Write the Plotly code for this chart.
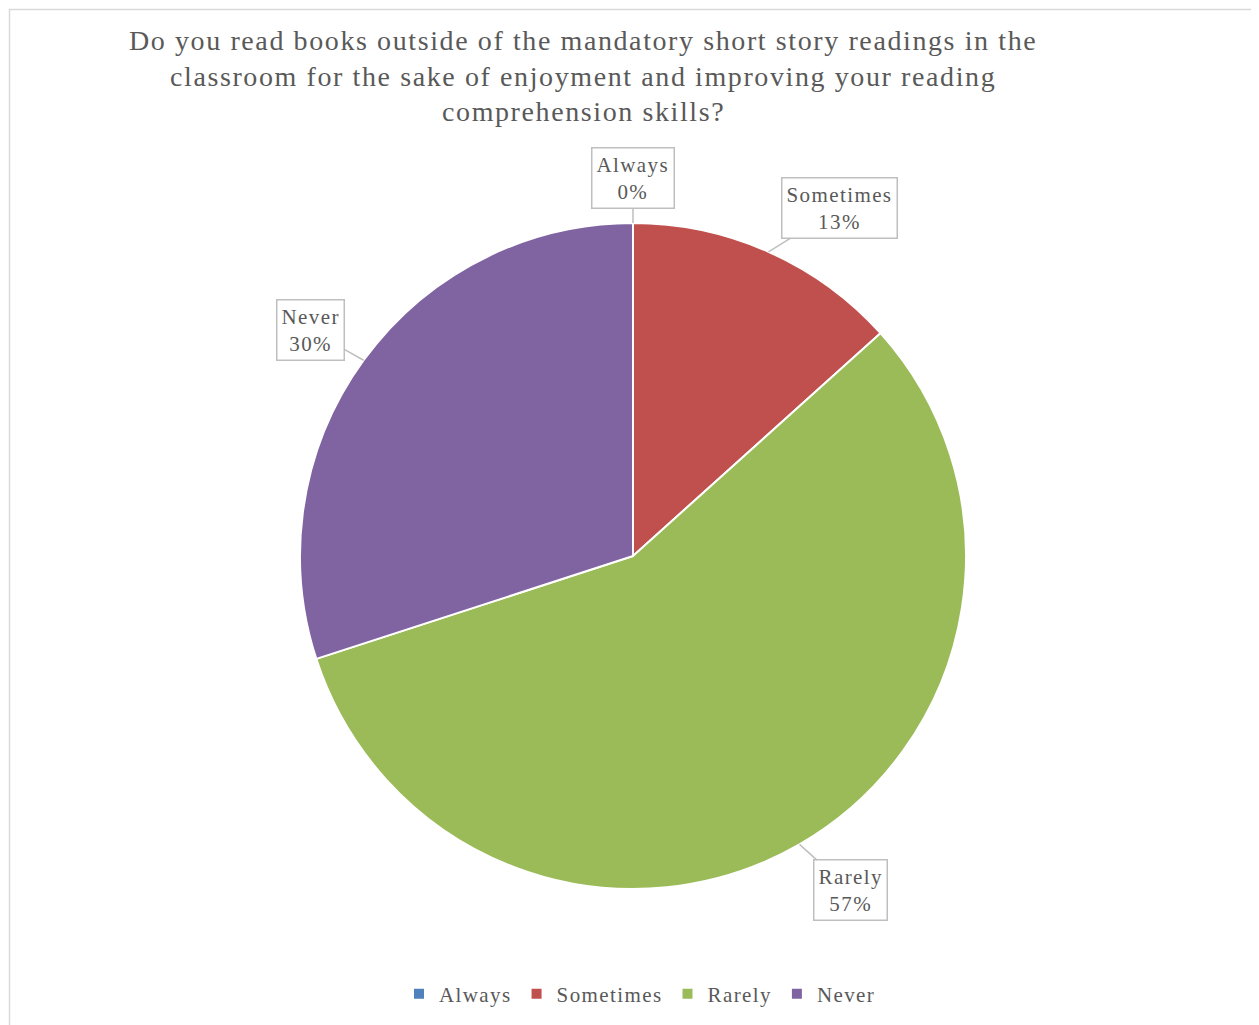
import math
import plotly.graph_objects as go

categories = ["Always", "Sometimes", "Rarely", "Never"]
counts = [0, 4, 17, 9]
colors = ["#4F81BD", "#C0504D", "#9BBB59", "#8064A2"]
title_lines = [
    "Do you read books outside of the mandatory short story readings in the",
    "classroom for the sake of enjoyment and improving your reading",
    "comprehension skills?",
]

W, H = 1259, 1025
OFF = 8  # page body margin compensation (px)


def px2x(x):
    return (x - OFF) / W


def px2y(y):
    return 1 - (y - OFF) / H


# pie geometry (pixels in final screenshot)
cx, cy, R = 633, 556, 333
dom_x = [px2x(cx - R), px2x(cx + R)]
dom_y = [px2y(cy + R), px2y(cy - R)]

FONT = "Liberation Serif, Times New Roman, serif"
GRAY = "#595959"


def spaced(t, ls):
    return f"<span style='letter-spacing:{ls}px'>{t}</span>"


fig = go.Figure(go.Pie(
    labels=[spaced(c, 1.4) for c in categories], values=counts, sort=False,
    direction="clockwise", rotation=0, textinfo="none", hoverinfo="label+percent",
    marker=dict(colors=colors, line=dict(color="white", width=2)),
    domain=dict(x=dom_x, y=dom_y), showlegend=True,
))

# callout offsets (pixels, text box center relative to slice edge point)
offsets = [(0, -45), (71, -44), (51, 46), (-53, -30)]
total = sum(counts)
cum = 0
for cat, v, (ax, ay) in zip(categories, counts, offsets):
    mid = (cum + v / 2) / total * 2 * math.pi
    cum += v
    px = cx + R * math.sin(mid)
    py = cy - R * math.cos(mid)
    pct = round(100 * v / total)
    fig.add_annotation(
        x=px2x(px), y=px2y(py), xref="paper", yref="paper",
        text=spaced(cat, 1.4) + "<br>" + spaced(f"{pct}%", 1.4),
        showarrow=True, arrowhead=0,
        arrowcolor="#BFBFBF", arrowwidth=1.5, ax=ax, ay=ay,
        bordercolor="#BFBFBF", borderwidth=1.5, borderpad=4,
        bgcolor="white", font=dict(family=FONT, size=21, color=GRAY),
        align="center", standoff=0,
    )

title_y = [40, 76, 112]
for line, ty in zip(title_lines, title_y):
    fig.add_annotation(
        x=px2x(583), y=px2y(ty), xref="paper", yref="paper",
        text=spaced(line, 1.6), showarrow=False,
        font=dict(family=FONT, size=28, color=GRAY), align="center",
        xanchor="center", yanchor="middle",
    )

fig.add_shape(type="rect", xref="paper", yref="paper",
              x0=1.5 / W, x1=1.05, y0=-0.05, y1=1 - 1.5 / H,
              line=dict(color="#D9D9D9", width=1.5), layer="below")

fig.update_layout(
    width=W, height=H, margin=dict(l=0, r=0, t=0, b=0),
    paper_bgcolor="white", plot_bgcolor="white",
    legend=dict(orientation="h", x=px2x(640), y=px2y(994),
                xanchor="center", yanchor="middle",
                font=dict(family=FONT, size=21, color=GRAY),
                itemwidth=30, tracegroupgap=0),
)

fig.write_html("out.html")
